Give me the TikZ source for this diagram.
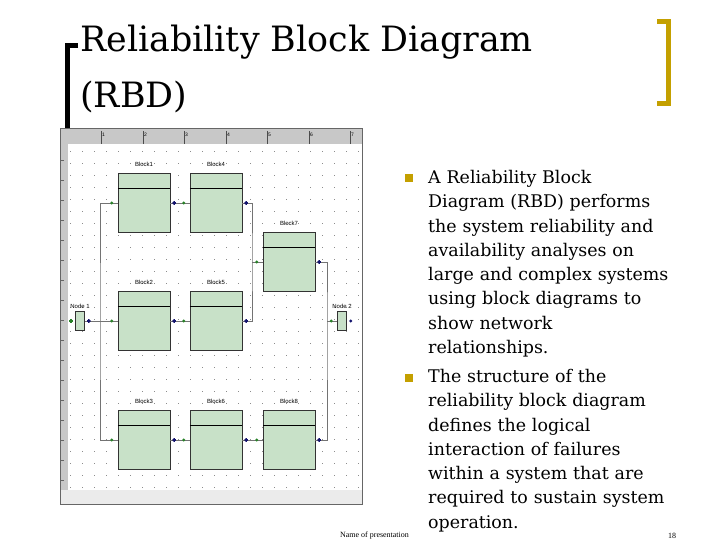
\documentclass[tikz,border=0pt]{standalone}
\usepackage{fontspec}
\setmainfont{DejaVu Serif}
\setsansfont{Liberation Sans}
\newfontfamily\footfont{Liberation Serif}
\usepackage{tikz}
\usetikzlibrary{arrows.meta, calc, positioning}
\definecolor{blockGreen}{RGB}{200,225,200}
\definecolor{bulletGold}{RGB}{196,160,0}
\definecolor{rulerGray}{RGB}{200,200,200}
\definecolor{portGreen}{RGB}{40,130,40}
\definecolor{portBlue}{RGB}{20,20,110}
\tikzset{
  rbdblock/.style={draw=black!80, fill=blockGreen, minimum width=52bp, minimum height=59bp, inner sep=0pt},
  rbdnode/.style={draw=black!80, fill=blockGreen, minimum width=9bp, minimum height=19bp, inner sep=0pt},
  blocklabel/.style={font=\sffamily\fontsize{6}{7}\selectfont, inner sep=1pt},
  wire/.style={draw=black!55, line width=0.9bp},
  bulletline/.style={font=\fontsize{17.5}{24.4}\selectfont, align=left, anchor=north west, inner sep=0pt, text width=260bp}
}
\newcommand{\inport}[1]{\fill[portGreen] ($(#1)+(-6bp,0)$) circle (1.6bp);}
\newcommand{\outport}[1]{\fill[portBlue] ($(#1)+(4bp,0)$) circle (1.6bp);}
\begin{document}
\begin{tikzpicture}[x=1bp, y=-1bp, every node/.style={inner sep=.5ex}]
  \useasboundingbox (0,0) rectangle (728,546);
  \fill[white] (0,0) rectangle (728,546);

  % title and brackets
  \node[anchor=base west, inner sep=0pt, font=\fontsize{35}{40}\selectfont] (title) at (80,52) {Reliability Block Diagram};
  \node[anchor=base west, inner sep=0pt, font=\fontsize{35}{40}\selectfont] (title2) at (80,108) {(RBD)};
  \draw[black, line width=5bp] (78,46) -- (67,46) -- (67,128);
  \draw[bulletGold, line width=5bp] (657,22) -- (668,22) -- (668,104) -- (657,104);

  % screenshot frame
  \fill[white] (60,128) rectangle (362,505);
  \fill[rulerGray] (60,128) rectangle (362,144);
  \fill[rulerGray] (60,128) rectangle (68,490);
  \fill[black!8] (60,490) rectangle (362,504);
  \draw[black!60] (60,128) rectangle (362,504);
  \foreach \i/\x in {1/101, 2/143, 3/184, 4/226, 5/267, 6/309, 7/350} {
    \draw[black!70] (\x,131) -- (\x,144);
    \node[anchor=west, inner sep=1pt, font=\sffamily\fontsize{5}{6}\selectfont] at (\x,135) {\i};
  }
  \foreach \y in {160,180,...,480} \draw[black!60] (60,\y) -- (64,\y);
  \foreach \x in {70,82,...,358} \foreach \y in {151,163,...,487} \fill[black!45] (\x,\y) rectangle ++(0.8,0.8);

  % blocks
  \node[rbdblock] (b1) at (144,203) {};
  \node[rbdblock] (b4) at (216,203) {};
  \node[rbdblock] (b7) at (289,262) {};
  \node[rbdblock] (b2) at (144,321) {};
  \node[rbdblock] (b5) at (216,321) {};
  \node[rbdblock] (b3) at (144,440) {};
  \node[rbdblock] (b6) at (216,440) {};
  \node[rbdblock] (b8) at (289,440) {};
  \foreach \b/\t in {b1/Block1, b4/Block4, b7/Block7, b2/Block2, b5/Block5, b3/Block3, b6/Block6, b8/Block8} {
    \draw[black, line width=0.8bp] ($(\b.north west)+(0,-15bp)$) -- ($(\b.north east)+(0,-15bp)$);
    \node[blocklabel, above=6bp of \b] {\t};
  }
  \node[rbdnode] (n1) at (80,321) {};
  \node[rbdnode] (n2) at (342,321) {};
  \node[blocklabel, above=2bp of n1] {Node 1};
  \node[blocklabel, above=2bp of n2] {Node 2};

  % connections
  \coordinate (lsplit) at (100,321);
  \coordinate (rjoin) at (252,262);
  \coordinate (rsplit) at (327,321);
  \draw[wire] (n1.east) -- (b2.west);
  \draw[wire] (b1.west) -| (lsplit) |- (b3.west);
  \draw[wire] (b1.east) -- (b4.west);
  \draw[wire] (b2.east) -- (b5.west);
  \draw[wire] (b3.east) -- (b6.west);
  \draw[wire] (b6.east) -- (b8.west);
  \draw[wire] (b4.east) -| (rjoin) |- (b5.east);
  \draw[wire] (rjoin) -- (b7.west);
  \draw[wire] (b7.east) -| (rsplit) |- (b8.east);
  \draw[wire] (rsplit) -- (n2.west);
  \foreach \b in {b1,b2,b3,b4,b5,b6,b7,b8,n2} \inport{\b.west}
  \foreach \b in {b1,b2,b3,b4,b5,b6,b7,b8,n1} \outport{\b.east}
  \fill[portGreen] ($(n1.west)+(-4bp,0)$) circle (1.6bp);
  \fill[portBlue] ($(n2.east)+(4bp,0)$) circle (1.6bp);

  % bullet text
  \fill[bulletGold] (405,174) rectangle ++(8,8);
  \node[bulletline] (t1) at (428,170) {A Reliability Block\\Diagram (RBD) performs\\the system reliability and\\availability analyses on\\large and complex systems\\using block diagrams to\\show network\\relationships.};
  \fill[bulletGold] (405,374) rectangle ++(8,8);
  \node[bulletline] (t2) at (428,369) {The structure of the\\reliability block diagram\\defines the logical\\interaction of failures\\within a system that are\\required to sustain system\\operation.};

  % footer
  \node[anchor=west, inner sep=0pt, font=\footfont\fontsize{8}{9}\selectfont] (foot) at (340,536) {Name of presentation};
  \node[anchor=west, inner sep=0pt, font=\footfont\fontsize{8}{9}\selectfont] (page) at (668,536) {18};
\end{tikzpicture}
\end{document}
